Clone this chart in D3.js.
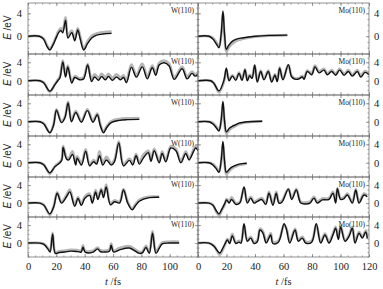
<!DOCTYPE html>
<html>
<head>
<meta charset="utf-8">
<script src="https://d3js.org/d3.v7.min.js"></script>
<style>
  body { margin: 0; background: #fff; }
  text { font-family: "Liberation Serif", "DejaVu Serif", serif; fill: #222; }
  .frame { fill: none; stroke: #777; stroke-width: 0.8px; }
  .tick line { stroke: #777; stroke-width: 0.7px; }
  .domain { display: none; }
  .gray { fill: none; stroke: #b5b5b5; stroke-width: 2.6px; stroke-linejoin: round; }
  .black { fill: none; stroke: #111; stroke-width: 1.4px; stroke-linejoin: round; }
  .ylab { font-family: "Liberation Sans", Arial, sans-serif; font-size: 10px; }
  .tag { font-size: 7.5px; }
  .num { font-size: 10.5px; }
</style>
</head>
<body>
<svg id="chart" width="383" height="289"></svg>
<script>

// ---------- data: time (fs), black curve, gray curve (eV) ----------
var w1T = [0,8,11,13.5,15.4,17.5,20,21.5,23.2,24.5,26.5,28.2,30.9,33,35.1,37,39.3,42,45,48.5,53,59];
var w1Black = [0,0,-0.5,-1.8,-2.4,-1.6,-0.2,0.6,1.0,0.6,2.8,-0.3,0.6,-0.8,1.1,-0.6,-2.4,-1.3,-0.3,0.2,0.4,0.5];
var w1Gray = [0,0,-0.4,-1.6,-2.2,-1.4,0,0.9,1.4,1.0,3.3,0.2,1.0,-0.4,1.4,-0.2,-2.2,-0.9,0.1,0.5,0.7,0.8];

var w2T = [0,8.4,11.2,15.4,18.9,21,22.5,24.6,26.5,28.1,30.9,33,36.5,39.3,42.1,44.9,47,49.8,51.9,54.7,56.8,59.6,62.5,65.3,67.4,69.5,73,76.5,80.7,84.2,87.7,90.2,92.6,96.1,99.6,103.2,108.8,112.3,115.8,117.9,120];
var w2Black = [0,0,-0.5,-2.25,-0.9,0,0.6,4.1,0.8,3.0,-0.5,0.7,0.2,0.4,3.4,-0.2,0.8,0.1,0.9,0.2,0.9,0.1,0.8,0.2,0.7,-0.4,2.9,0.8,3.0,0.4,2.8,1.2,3.4,3.9,3.2,0.3,2.6,0.4,1.6,1.0,1.4];
var w2Gray = [0,0,-0.4,-2.4,-0.8,0.2,0.9,4.4,1.1,3.3,-0.2,1.0,0.5,0.8,3.6,0.3,1.4,0.6,1.5,0.7,1.5,0.6,1.4,0.7,1.2,0.1,3.5,1.3,3.7,0.9,3.3,1.7,3.9,4.4,3.7,0.8,3.0,0.9,2.0,1.4,1.7];

var w3T = [0,8.4,11.2,15.4,18,20.1,23.6,26,28.3,30.7,33.7,37.7,41.9,45.8,48.9,51,53.3,55.5,58.7,64.6,70,78.6];
var w3Black = [0,0,-0.5,-2.4,-0.8,2.5,-0.2,0.8,4.1,0,2.0,-0.1,2.4,-0.1,1.5,-0.8,-2.4,-1.3,-0.2,0.3,0.45,0.5];
var w3Gray = [0,0,-0.4,-2.3,-0.6,2.7,0.1,1.0,4.3,0.3,2.3,0.2,2.7,0.2,1.8,-0.5,-2.2,-1.0,0.1,0.6,0.75,0.8];

var w4T = [0,8.4,11.2,15.4,18.9,23.6,24.8,27.2,28.8,31.4,33.7,34.7,37.7,40.7,43.5,46.3,48.4,50.5,52.8,55.4,58.7,61,64.1,67.4,71.6,73.9,76.3,78.6,81.4,84.9,86.8,89.1,92.6,94.7,97.3,100.8,104.4,107.9,111.4,113.7,118.4,120];
var w4Black = [0,0,-0.5,-2.2,-0.9,0.4,3.3,0.8,0.6,1.8,-0.5,1.0,-0.5,2.5,-0.7,0.2,-0.3,1.5,-0.5,0.6,-0.5,0.2,4.3,-0.7,0.5,-0.5,1.5,-0.3,1.0,2.2,0.3,2.6,0,2.0,0.2,3.2,2.6,0,2.0,0.6,3.2,2.6];
var w4Gray = [0,0,-0.4,-2.4,-0.8,0.6,3.6,1.2,1.0,2.5,-0.1,1.4,-0.1,2.9,-0.3,0.6,0.1,2.5,0,1.3,-0.1,0.6,4.6,-0.3,0.9,-0.1,1.9,0.1,1.7,2.6,0.7,3.0,0.4,2.4,0.6,3.6,3.0,0.4,2.4,1.0,3.6,3.0];

var w5T = [0,8.4,11.2,15.4,18.2,20.6,23.6,27.2,29.5,33,35.3,37.7,40,43.5,45.4,47.7,49.3,51.7,53.3,55.2,58.2,61.1,64.6,67.4,70.4,73.5,75.8,78.6,85.6,92.6];
var w5Black = [0,0,-0.5,-2.4,-0.8,2.2,0,1.4,2.5,-0.7,1.0,-0.5,1.0,1.7,0,2.5,0.8,2.9,1.2,3.6,-0.4,0.3,0,2.9,0,-1.5,-0.6,0.4,1.2,1.3];
var w5Gray = [0,0,-0.4,-2.6,-0.6,2.4,0.3,1.8,3.0,-0.4,1.3,-0.2,1.4,2.1,0.4,2.9,1.2,3.2,1.6,4.1,-0.1,0.6,0.3,3.1,0.3,-1.3,-0.3,0.7,1.4,1.4];

var w6T = [0,8.4,11.2,14.5,15.6,17.4,19.3,22,26,30,35,37.5,38.8,40.3,46,49.1,51,54,57.5,58.7,60.4,64.6,71.6,78.6,80.7,83.3,85.6,87.9,90.3,92.6,94.7,99.6,106.7];
var w6Black = [0,0,-0.3,-1.5,-2.0,2.0,-2.3,-2.1,-2.0,-1.8,-1.9,-2.0,-0.9,-2.0,-2.0,-1.3,-1.9,-2.0,-1.8,-0.5,-2.0,-1.5,-1.1,-2.3,-2.2,-1.0,-2.3,2.2,-2.3,-1.2,-0.2,0,0];
var w6Gray = [0,0,-0.2,-1.3,-1.8,2.3,-2.1,-1.8,-1.7,-1.5,-1.6,-1.7,-0.5,-1.7,-1.7,-1.0,-1.6,-1.7,-1.4,-0.1,-1.7,-1.1,-0.7,-2.0,-1.9,-0.6,-2.0,2.7,-2.0,-0.8,0.1,0.3,0.3];

var m1T = [0,7.7,10.5,13,14.7,16.3,17.5,18.6,19.9,21.5,24,27,30.9,40,50,62.7];
var m1Black = [0,0,-0.5,-1.4,-2.0,0.5,4.4,0.5,-2.3,-1.6,-0.9,-0.5,-0.3,0,0.15,0.2];
var m1Gray = [0,0,-0.3,-1.1,-1.8,0.2,4.0,0,-2.7,-2.0,-1.3,-0.8,-0.5,-0.1,0.1,0.2];

var m2T = [0,8.9,11.2,14.7,18.2,19.9,21.8,24.1,26.5,28.8,30.9,33,34.6,36.3,37.9,39.8,41.6,44,46.3,49.3,51.7,54,55.6,57.3,59.6,63.4,65.8,68.6,70.9,73.2,74.4,76.7,79.8,82.1,84.9,88.4,90.7,93.8,96.6,99.4,102.5,105.5,108.3,111.8,114.2,117.2,120];
var m2Black = [0,0,-0.6,-2.2,0.1,2.7,0,1.0,0.1,1.6,0.1,2.4,0,1.1,0.5,3.4,-0.3,2.0,0.2,2.0,-0.3,1.2,-0.2,2.7,0.2,3.5,0.8,0.3,0.4,0.8,0.3,2.0,1.3,3.0,1.7,2.3,1.3,2.0,1.2,2.3,1.2,2.0,1.0,2.0,0.8,1.8,1.3];
var m2Gray = [0,0,-0.5,-2.5,-0.2,2.4,0.2,1.2,0.4,1.8,0.3,2.5,0.2,1.3,0.7,3.3,0,2.2,0.4,2.2,0,1.4,0,2.9,0.4,3.4,1.0,0.5,0.6,1.0,0.5,2.2,1.6,3.3,2.0,2.6,1.6,2.3,1.5,2.6,1.5,2.3,1.3,2.3,1.1,2.1,1.5];

var m3T = [0,7.7,10.5,13,14.7,16.3,17.5,18.6,19.9,22,24,27,28.8,35,45.1];
var m3Black = [0,0,-0.5,-1.4,-2.0,0.5,4.4,0.3,-2.2,-1.4,-1.0,-0.6,-0.3,0,0.1];
var m3Gray = [0,0,-0.3,-1.1,-1.8,0.2,4.0,-0.1,-2.6,-1.8,-1.3,-0.8,-0.5,-0.1,0.1];

var m4T = [0,7.7,10.5,13,14.7,16.3,17.5,18.6,19.9,22,24,28.8,34.2];
var m4Black = [0,0,-0.5,-1.4,-2.1,0.6,4.6,0.5,-2.1,-1.4,-0.9,-0.3,-0.1];
var m4Gray = [0,0,-0.3,-1.1,-1.9,0.3,4.2,0.1,-2.5,-1.8,-1.2,-0.5,-0.2];

var m5T = [0,7.7,10.5,12.6,14.7,16.8,18.9,20.1,21.8,23.6,26.5,29.3,32.3,34.6,37,39.3,41.4,44.7,47.5,49.8,52.6,54.9,56.8,58.9,63.4,65.8,69,72.1,75.6,78.6,81.4,83.7,87.2,91.9,94.7,96.6,97.8,100.1,102.5,104.8,108.3,110.7,113,116.5,118.8];
var m5Black = [0,0,-0.5,-1.6,-2.4,-1.3,0,0.7,0,0.8,-0.3,0,3.6,0,1.1,0,0.3,0.8,-0.3,2.2,-0.5,2.2,0,0.2,3.1,0.8,2.9,0,-0.2,0,1.1,0,0.7,0.8,2.2,0,3.2,0.8,1.0,1.8,0,2.9,0,1.8,1.4];
var m5Gray = [0,0,-0.4,-1.8,-2.7,-1.6,-0.2,0.9,0.3,1.3,0,0.2,3.4,0.3,1.4,0.3,0.6,1.1,0,2.5,-0.2,2.5,0.3,0.5,3.2,1.1,3.1,0.3,0.1,0.3,1.4,0.3,1.0,1.1,2.5,0.3,3.3,1.1,1.3,2.1,0.3,3.1,0.3,2.1,1.7];

var m6T = [0,7.7,11.2,15.2,16.8,18.9,20.6,22.2,24.1,26.5,28.8,30.2,32.3,34.6,37,39.3,41.6,43.5,45.6,47.9,51,52.6,56.4,60.4,62.2,64.4,68.1,70.4,73.2,75.6,79.8,83,86.1,89.1,91.9,94.7,96.6,98.5,100.1,103.2,106,108.3,110.2,113,115.3,117.7,118.8];
var m6Black = [0,0,-0.7,-2.2,-1.5,-0.2,0.7,-0.1,1.6,-0.1,0.2,0,4.3,0.4,1.1,-0.1,0.3,2.9,2.2,0,1.8,-0.1,0.2,4.3,2.9,0,2.9,0.4,1.1,0,0.2,4.3,0,1.8,0,1.8,3.3,0.8,3.6,0.4,1.5,3.3,0,2.2,1.1,2.5,1.0];
var m6Gray = [0,0,-0.6,-2.6,-1.9,-0.4,0.9,0.2,2.0,0.2,0.5,0.3,4.0,0.7,1.4,0.2,0.6,3.2,2.6,0.3,2.2,0.2,0.5,4.0,3.2,0.3,3.2,0.7,1.4,0.3,0.5,4.1,0.3,2.1,0.3,2.2,3.6,1.1,3.8,0.7,1.8,3.6,0.3,2.5,1.4,2.8,1.3];

var xTickLabels = [0, 20, 40, 60, 80, 100, 120];
var yTickLabels = [0, 4];
var leftTag = "W(110)", rightTag = "Mo(110)";

// ---------- layout ----------
var svg = d3.select("#chart");
var rowTops = [3, 54, 95, 136, 177, 217], plotBottom = 257;
var cols = [{ x0: 28, x1: 198 }, { x0: 198, x1: 369 }];

var panels = [
  [[w1T, w1Black, w1Gray], [m1T, m1Black, m1Gray]],
  [[w2T, w2Black, w2Gray], [m2T, m2Black, m2Gray]],
  [[w3T, w3Black, w3Gray], [m3T, m3Black, m3Gray]],
  [[w4T, w4Black, w4Gray], [m4T, m4Black, m4Gray]],
  [[w5T, w5Black, w5Gray], [m5T, m5Black, m5Gray]],
  [[w6T, w6Black, w6Gray], [m6T, m6Black, m6Gray]]
];

panels.forEach(function (row, r) {
  var top = rowTops[r];
  var bottom = r < 5 ? rowTops[r + 1] : plotBottom;
  var y = d3.scaleLinear().domain([-3.1, 5.8]).range([bottom, top]);

  row.forEach(function (set, c) {
    var x = d3.scaleLinear().domain([0, 120]).range([cols[c].x0, cols[c].x1]);
    var g = svg.append("g");

    var clipId = "clip" + r + "_" + c;
    g.append("clipPath").attr("id", clipId)
      .append("rect")
      .attr("x", x.range()[0]).attr("y", top)
      .attr("width", x.range()[1] - x.range()[0]).attr("height", bottom - top);

    // ticks pointing inward on all four sides
    [[d3.axisBottom, bottom, 3], [d3.axisTop, top, 3]].forEach(function (a) {
      g.append("g").attr("transform", "translate(0," + a[1] + ")")
        .call(a[0](x).tickValues(d3.range(0, 121, 20)).tickSize(-a[2]).tickFormat(""));
      g.append("g").attr("transform", "translate(0," + a[1] + ")")
        .call(a[0](x).tickValues(d3.range(0, 121, 5)).tickSize(-1.5).tickFormat(""));
    });
    [[d3.axisLeft, x.range()[0]], [d3.axisRight, x.range()[1]]].forEach(function (a) {
      g.append("g").attr("transform", "translate(" + a[1] + ",0)")
        .call(a[0](y).tickValues(yTickLabels).tickSize(-3).tickFormat(""));
      g.append("g").attr("transform", "translate(" + a[1] + ",0)")
        .call(a[0](y).tickValues(d3.range(-3, 6, 1)).tickSize(-1.5).tickFormat(""));
    });

    var pts = set[0].map(function (t, i) { return { t: t, b: set[1][i], g: set[2][i] }; });
    var lineG = d3.line().curve(d3.curveCatmullRom.alpha(0.5))
      .x(function (d) { return x(d.t); }).y(function (d) { return y(d.g); });
    var lineB = d3.line().curve(d3.curveCatmullRom.alpha(0.5))
      .x(function (d) { return x(d.t); }).y(function (d) { return y(d.b); });

    var curves = g.append("g").attr("clip-path", "url(#" + clipId + ")");
    curves.append("path").attr("class", "gray").attr("d", lineG(pts));
    curves.append("path").attr("class", "black").attr("d", lineB(pts));

    g.append("rect").attr("class", "frame")
      .attr("x", x.range()[0]).attr("y", top)
      .attr("width", x.range()[1] - x.range()[0]).attr("height", bottom - top);

    g.append("text").attr("class", "tag")
      .attr("x", x.range()[1] - 4).attr("y", top + 10)
      .attr("text-anchor", "end")
      .text(c === 0 ? leftTag : rightTag);

    // bottom tick labels under last row
    if (r === 5) {
      g.append("g").attr("transform", "translate(0," + bottom + ")")
        .call(d3.axisBottom(x).tickValues(c === 0 ? xTickLabels.slice(0, 6) : xTickLabels).tickSize(0).tickPadding(6))
        .selectAll("text").attr("class", "num").style("font-family", null);
      g.append("text").attr("class", "num")
        .attr("x", (x.range()[0] + x.range()[1]) / 2).attr("y", 285)
        .attr("text-anchor", "middle")
        .html('<tspan font-style="italic">t</tspan> /fs');
    }
  });

  // y tick labels on left and right
  var yl = svg.append("g").attr("transform", "translate(" + cols[0].x0 + ",0)")
    .call(d3.axisLeft(y).tickValues(yTickLabels).tickSize(0).tickPadding(6));
  yl.selectAll("text").attr("class", "num");
  var yr = svg.append("g").attr("transform", "translate(" + cols[1].x1 + ",0)")
    .call(d3.axisRight(y).tickValues(yTickLabels).tickSize(0).tickPadding(5));
  yr.selectAll("text").attr("class", "num");

  svg.append("text").attr("class", "ylab")
    .attr("transform", "translate(11," + (y(1.5)) + ") rotate(-90)")
    .attr("text-anchor", "middle")
    .html('<tspan font-style="italic">E</tspan> /eV');
});

</script>
</body>
</html>
